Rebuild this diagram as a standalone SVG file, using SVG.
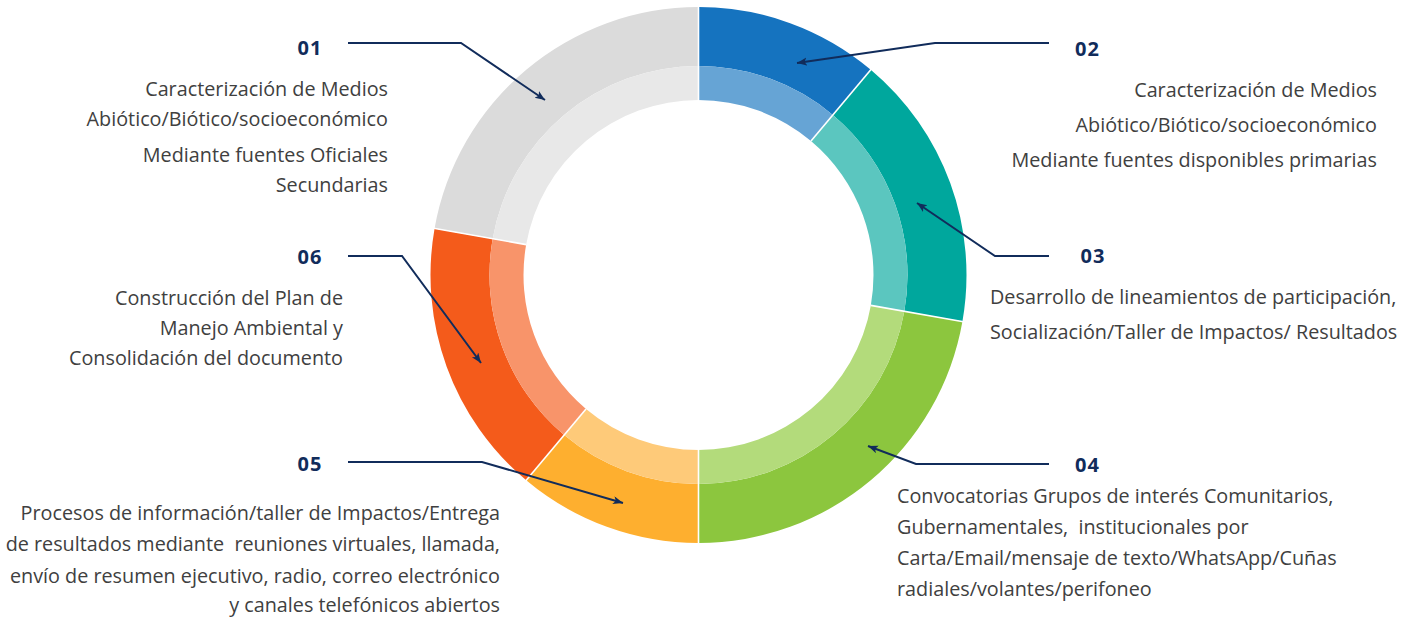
<svg xmlns="http://www.w3.org/2000/svg" width="1412" height="618" viewBox="0 0 1412 618">
<style>
.num{font-family:"Open Sans","Noto Sans",sans-serif;font-weight:700;font-size:20px;letter-spacing:1px;fill:#112C5B;text-anchor:middle}
.txt{font-family:"Open Sans","Noto Sans",sans-serif;font-size:19.8px;fill:#404040;white-space:pre}
.end{text-anchor:end}
.conn{fill:none;stroke:#112C5B;stroke-width:2;marker-end:url(#arr)}
.sep{stroke:#fff;stroke-width:1.6}
</style>
<defs>
<marker id="arr" markerUnits="userSpaceOnUse" markerWidth="12" markerHeight="10" refX="10" refY="4" orient="auto">
<path d="M0,0 L10,4 L0,8 L2.5,4 Z" fill="#112C5B"/>
</marker>
</defs>
<rect width="1412" height="618" fill="#fff"/>
<g id="ring">
<g id="seg02">
<path d="M698.5,7 A268,268 0 0 1 870.77,69.71 L832.85,114.91 A209,209 0 0 0 698.5,66 Z" fill="#1573BF"/>
<path d="M698.5,66 A209,209 0 0 1 832.85,114.91 L810.99,140.95 A175,175 0 0 0 698.5,100 Z" fill="#66A4D5"/>
</g>
<g id="seg03">
<path d="M870.77,69.71 A268,268 0 0 1 962.43,321.53 L904.32,311.28 A209,209 0 0 0 832.85,114.91 Z" fill="#00A79D"/>
<path d="M832.85,114.91 A209,209 0 0 1 904.32,311.28 L870.84,305.38 A175,175 0 0 0 810.99,140.95 Z" fill="#5BC6BF"/>
</g>
<g id="seg04">
<path d="M962.43,321.53 A268,268 0 0 1 698.5,543 L698.5,484 A209,209 0 0 0 904.32,311.28 Z" fill="#8CC63E"/>
<path d="M904.32,311.28 A209,209 0 0 1 698.5,484 L698.5,450 A175,175 0 0 0 870.84,305.38 Z" fill="#B3DB7B"/>
</g>
<g id="seg05">
<path d="M698.5,543 A268,268 0 0 1 526.23,480.29 L564.15,435.09 A209,209 0 0 0 698.5,484 Z" fill="#FEAF2F"/>
<path d="M698.5,484 A209,209 0 0 1 564.15,435.09 L586.01,409.05 A175,175 0 0 0 698.5,450 Z" fill="#FECA79"/>
</g>
<g id="seg06">
<path d="M526.23,480.29 A268,268 0 0 1 434.57,228.47 L492.68,238.72 A209,209 0 0 0 564.15,435.09 Z" fill="#F45B1B"/>
<path d="M564.15,435.09 A209,209 0 0 1 492.68,238.72 L526.16,244.62 A175,175 0 0 0 586.01,409.05 Z" fill="#F8946A"/>
</g>
<g id="seg01">
<path d="M434.57,228.47 A268,268 0 0 1 698.5,7 L698.5,66 A209,209 0 0 0 492.68,238.72 Z" fill="#DBDBDB"/>
<path d="M492.68,238.72 A209,209 0 0 1 698.5,66 L698.5,100 A175,175 0 0 0 526.16,244.62 Z" fill="#E8E8E8"/>
</g>
<g id="separators">
<line class="sep" x1="698.5" y1="6" x2="698.5" y2="100"/>
<line class="sep" x1="871.4" y1="69" x2="811" y2="141"/>
<line class="sep" x1="963.4" y1="321.7" x2="870.8" y2="305.4"/>
<line class="sep" x1="698.5" y1="544" x2="698.5" y2="450"/>
<line class="sep" x1="525.6" y1="481" x2="586" y2="409"/>
<line class="sep" x1="433.6" y1="228.3" x2="526.2" y2="244.6"/>
</g>
</g>
<g id="connectors">
<path class="conn" d="M348,43 H461 L545,100"/>
<path class="conn" d="M1049,43 H935 L797,63"/>
<path class="conn" d="M1049,256 H995 L917,203"/>
<path class="conn" d="M1049,464 H916 L868,446"/>
<path class="conn" d="M348,462 H482 L623,503"/>
<path class="conn" d="M348,256 H402 L481,363"/>
</g>
<g id="label01">
<text class="num" x="310" y="55">01</text>
<text class="txt end" x="388" y="96">Caracterización de Medios</text>
<text class="txt end" x="388" y="126">Abiótico/Biótico/socioeconómico</text>
<text class="txt end" x="388" y="162">Mediante fuentes Oficiales</text>
<text class="txt end" x="388" y="192">Secundarias</text>
</g>
<g id="label02">
<text class="num" x="1087.5" y="56">02</text>
<text class="txt end" x="1377" y="97">Caracterización de Medios</text>
<text class="txt end" x="1377" y="132">Abiótico/Biótico/socioeconómico</text>
<text class="txt end" x="1377" y="167">Mediante fuentes disponibles primarias</text>
</g>
<g id="label03">
<text class="num" x="1093" y="263">03</text>
<text class="txt" x="990" y="304">Desarrollo de lineamientos de participación,</text>
<text class="txt" x="990" y="339">Socialización/Taller de Impactos/ Resultados</text>
</g>
<g id="label04">
<text class="num" x="1087.5" y="472">04</text>
<text class="txt" x="897" y="503">Convocatorias Grupos de interés Comunitarios,</text>
<text class="txt" x="897" y="534">Gubernamentales,  institucionales por</text>
<text class="txt" x="897" y="565">Carta/Email/mensaje de texto/WhatsApp/Cuñas</text>
<text class="txt" x="897" y="596">radiales/volantes/perifoneo</text>
</g>
<g id="label05">
<text class="num" x="310" y="471">05</text>
<text class="txt end" x="500" y="520">Procesos de información/taller de Impactos/Entrega</text>
<text class="txt end" x="500" y="551">de resultados mediante  reuniones virtuales, llamada,</text>
<text class="txt end" x="500" y="583">envío de resumen ejecutivo, radio, correo electrónico</text>
<text class="txt end" x="500" y="612">y canales telefónicos abiertos</text>
</g>
<g id="label06">
<text class="num" x="310" y="264">06</text>
<text class="txt end" x="343" y="305">Construcción del Plan de</text>
<text class="txt end" x="343" y="335">Manejo Ambiental y</text>
<text class="txt end" x="343" y="365">Consolidación del documento</text>
</g>
</svg>
